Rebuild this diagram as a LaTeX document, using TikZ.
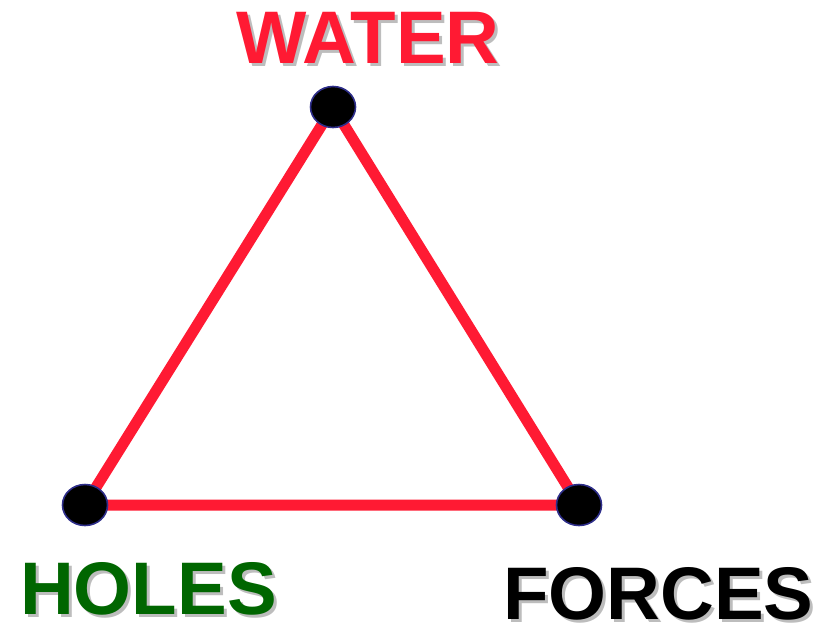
\documentclass[tikz,border=0pt]{standalone}
\usepackage{fontspec}
\setmainfont{Liberation Sans}
\usepackage{xcolor}
\usetikzlibrary{shapes.geometric,backgrounds}
\definecolor{edgered}{HTML}{FF1A33}
\definecolor{holegreen}{HTML}{006600}
\definecolor{shadowgray}{HTML}{BDBDBD}
\definecolor{rimblue}{HTML}{2E2E8A}
\tikzset{
  corner/.style    = {ellipse, fill=black, draw=rimblue, line width=1.6pt,
                      minimum width=45pt, minimum height=41pt, inner sep=0pt},
  side/.style      = {draw=edgered, line width=11pt},
  word/.style      = {font=\fontsize{74.5}{80}\bfseries, anchor=base west, inner sep=0pt},
  wordshadow/.style= {word, text=shadowgray},
}
\newcommand{\shadowword}[5]{%
  \node[wordshadow] at (#1+3,#2+3) {#4};
  \node[word, text=#5] (#3) at (#1,#2) {#4};%
}

\begin{document}
\begin{tikzpicture}[x=1pt,y=-1pt]
  \useasboundingbox (0,0) rectangle (829,625);

  % corners of the triangle
  \node[corner] (water)  at (333,107) {};
  \node[corner] (holes)  at (85,505)  {};
  \node[corner] (forces) at (579,505) {};

  % sides
  \begin{scope}[on background layer]
    \draw[side] (water.center) -- (holes.center) -- (forces.center) -- cycle;
  \end{scope}

  % labels
  \shadowword{236}{63}{waterlbl}{WATER}{edgered}
  \shadowword{20}{614}{holeslbl}{HOLES}{holegreen}
  \shadowword{503}{619}{forceslbl}{FORCES}{black}
\end{tikzpicture}
\end{document}
